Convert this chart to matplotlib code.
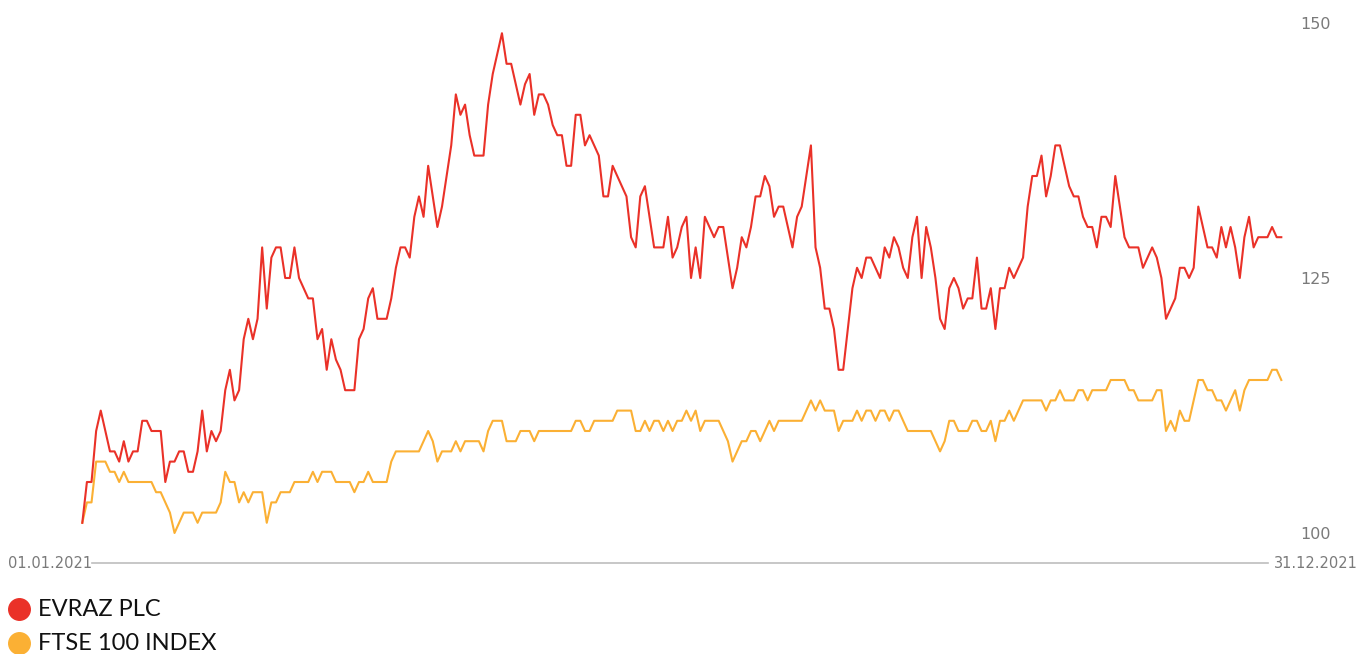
"""EVRAZ PLC against FTSE 100 index, rebased to 100, for 2021."""

import matplotlib
matplotlib.use('Agg')
import numpy as np
import matplotlib.pyplot as plt
from matplotlib.lines import Line2D

FIGSIZE = (13.62, 6.54)
DPI = 100
RED = '#ea3128'
ORANGE = '#fbb034'
GREY = '#7a7a7a'

START_LABEL = '01.01.2021'
END_LABEL = '31.12.2021'
Y_TICKS = [100, 125, 150]
SERIES_NAMES = ['EVRAZ PLC', 'FTSE 100 INDEX']

# one value per trading day
EVRAZ = [
    101, 105, 105, 110, 112, 110, 108, 108, 107, 109,
    107, 108, 108, 111, 111, 110, 110, 110, 105, 107,
    107, 108, 108, 106, 106, 108, 112, 108, 110, 109,
    110, 114, 116, 113, 114, 119, 121, 119, 121, 128,
    122, 127, 128, 128, 125, 125, 128, 125, 124, 123,
    123, 119, 120, 116, 119, 117, 116, 114, 114, 114,
    119, 120, 123, 124, 121, 121, 121, 123, 126, 128,
    128, 127, 131, 133, 131, 136, 133, 130, 132, 135,
    138, 143, 141, 142, 139, 137, 137, 137, 142, 145,
    147, 149, 146, 146, 144, 142, 144, 145, 141, 143,
    143, 142, 140, 139, 139, 136, 136, 141, 141, 138,
    139, 138, 137, 133, 133, 136, 135, 134, 133, 129,
    128, 133, 134, 131, 128, 128, 128, 131, 127, 128,
    130, 131, 125, 128, 125, 131, 130, 129, 130, 130,
    127, 124, 126, 129, 128, 130, 133, 133, 135, 134,
    131, 132, 132, 130, 128, 131, 132, 135, 138, 128,
    126, 122, 122, 120, 116, 116, 120, 124, 126, 125,
    127, 127, 126, 125, 128, 127, 129, 128, 126, 125,
    129, 131, 125, 130, 128, 125, 121, 120, 124, 125,
    124, 122, 123, 123, 127, 122, 122, 124, 120, 124,
    124, 126, 125, 126, 127, 132, 135, 135, 137, 133,
    135, 138, 138, 136, 134, 133, 133, 131, 130, 130,
    128, 131, 131, 130, 135, 132, 129, 128, 128, 128,
    126, 127, 128, 127, 125, 121, 122, 123, 126, 126,
    125, 126, 132, 130, 128, 128, 127, 130, 128, 130,
    128, 125, 129, 131, 128, 129, 129, 129, 130, 129, 129,
]

FTSE = [
    101, 103, 103, 107, 107, 107, 106, 106, 105, 106,
    105, 105, 105, 105, 105, 105, 104, 104, 103, 102,
    100, 101, 102, 102, 102, 101, 102, 102, 102, 102,
    103, 106, 105, 105, 103, 104, 103, 104, 104, 104,
    101, 103, 103, 104, 104, 104, 105, 105, 105, 105,
    106, 105, 106, 106, 106, 105, 105, 105, 105, 104,
    105, 105, 106, 105, 105, 105, 105, 107, 108, 108,
    108, 108, 108, 108, 109, 110, 109, 107, 108, 108,
    108, 109, 108, 109, 109, 109, 109, 108, 110, 111,
    111, 111, 109, 109, 109, 110, 110, 110, 109, 110,
    110, 110, 110, 110, 110, 110, 110, 111, 111, 110,
    110, 111, 111, 111, 111, 111, 112, 112, 112, 112,
    110, 110, 111, 110, 111, 111, 110, 111, 110, 111,
    111, 112, 111, 112, 110, 111, 111, 111, 111, 110,
    109, 107, 108, 109, 109, 110, 110, 109, 110, 111,
    110, 111, 111, 111, 111, 111, 111, 112, 113, 112,
    113, 112, 112, 112, 110, 111, 111, 111, 112, 111,
    112, 112, 111, 112, 112, 111, 112, 112, 111, 110,
    110, 110, 110, 110, 110, 109, 108, 109, 111, 111,
    110, 110, 110, 111, 111, 110, 110, 111, 109, 111,
    111, 112, 111, 112, 113, 113, 113, 113, 113, 112,
    113, 113, 114, 113, 113, 113, 114, 114, 113, 114,
    114, 114, 114, 115, 115, 115, 115, 114, 114, 113,
    113, 113, 113, 114, 114, 110, 111, 110, 112, 111,
    111, 113, 115, 115, 114, 114, 113, 113, 112, 113,
    114, 112, 114, 115, 115, 115, 115, 115, 116, 116, 115,
]


def px(x, y):
  """Convert pixel position (from top-left) to figure fraction."""
  return x / 1362, 1 - y / 654


def build_plot():
  """Draw both series and the decorations around them."""
  days = np.arange(len(EVRAZ))  # trading days, evenly spaced

  fig = plt.figure(figsize=FIGSIZE, dpi=DPI)
  left, bottom = px(82.3, 533)
  right, top = px(1281.3, 23)
  ax = fig.add_axes([left, bottom, right - left, top - bottom])

  ax.plot(days, FTSE, color=ORANGE, lw=1.5, clip_on=False)
  ax.plot(days, EVRAZ, color=RED, lw=1.5, clip_on=False)

  ax.set_xlim(days[0], days[-1])
  ax.set_ylim(Y_TICKS[0], Y_TICKS[-1])
  for s in ax.spines.values():
    s.set_visible(False)
  ax.set_xticks([])
  ax.yaxis.tick_right()
  ax.set_yticks(Y_TICKS)
  ax.tick_params(axis='y', length=0, pad=14, labelsize=11.5,
                 labelcolor=GREY)

  # baseline between the two date labels
  x0, yb = px(92, 563)
  x1, _ = px(1268, 563)
  fig.add_artist(Line2D([x0, x1], [yb, yb], color='#bdbdbd', lw=1.2))
  fig.text(*px(8, 563), START_LABEL, color=GREY, fontsize=10.5,
           ha='left', va='center')
  fig.text(*px(1358, 563), END_LABEL, color=GREY, fontsize=10.5,
           ha='right', va='center')

  # legend drawn by hand, circle + label
  for name, color, y in zip(SERIES_NAMES, [RED, ORANGE], [609, 643]):
    cx, cy = px(19, y)
    fig.add_artist(Line2D([cx], [cy], marker='o', markersize=15.5,
                          color=color, linestyle='none'))
    fig.text(*px(38, y), name, family=['Lato', 'DejaVu Sans'],
             fontsize=17, color='#111111', ha='left', va='center')

  fig.savefig('out.png', dpi=DPI)


if __name__ == '__main__':
  build_plot()
